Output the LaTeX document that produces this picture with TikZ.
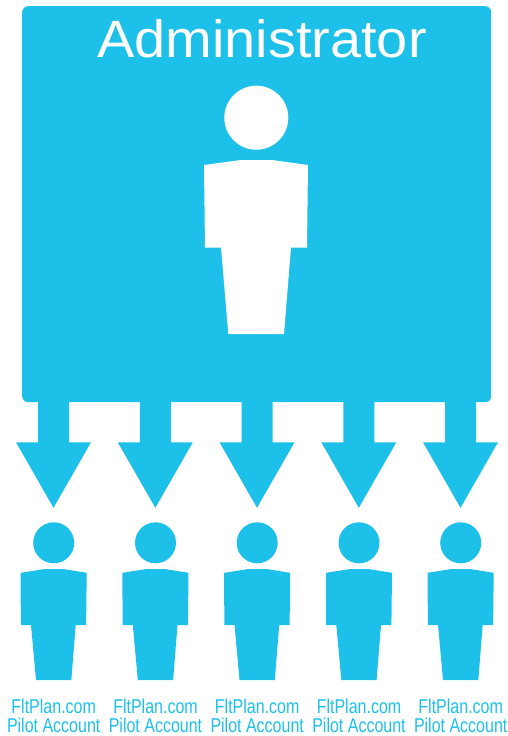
\documentclass[tikz,border=0pt]{standalone}
\usepackage{fontspec}
\setmainfont{Liberation Sans}
\definecolor{sky}{HTML}{1DC0E9}
\tikzset{
  x=1pt,y=-1pt,
  fillsky/.style={fill=sky,draw=none},
  fillwhite/.style={fill=white,draw=none},
  caption/.style={text=sky,inner sep=0pt,anchor=base,font=\fontsize{20}{20}\selectfont,xscale=0.8},
  title/.style={text=white,inner sep=0pt,anchor=base,font=\fontsize{52.5}{52.5}\selectfont,xscale=1.065},
  adminbox/.style={fillsky,rounded corners=6pt,minimum width=469pt,minimum height=396pt,inner sep=0pt,anchor=north west}
}
\begin{document}
\begin{tikzpicture}
\useasboundingbox (0,0) rectangle (508,736);
\node[adminbox] (admin) at (22,6) {};
\node[title] (admintitle) at (262,57.7) {Administrator};
% big figure
\fill[white] (256.3,117.7) circle (32);
\path[fillwhite] (204,165) -- (241,160) -- (272,160) -- (308,165) -- (307,247.5) -- (291,247.5) -- (284,334) -- (228.3,334) -- (221,247.5) -- (205,247.5) -- cycle;
\foreach \cx/\i in {53.5/1,155.3/2,257/3,358.8/4,460.5/5}{
  \begin{scope}[shift={(\cx,0)}]
    \path[fillsky] (-15.5,400) -- (15.5,400) -- (15.5,442.3) -- (37.5,442.3) -- (0,507.8) -- (-37.5,442.3) -- (-15.5,442.3) -- cycle;
    \fill[sky] (0.2,542.8) circle (20.5);
    \path[fillsky] (-33,572.8) -- (-8.5,569) -- (9.5,569) -- (33.2,572.8) -- (32.6,625) -- (22.2,625) -- (17.8,680) -- (-17.5,680) -- (-22.5,625) -- (-32.6,625) -- cycle;
    \node[caption] (planlabel\i) at (0.2,713.3) {FltPlan.com};
    \node[caption] (pilotlabel\i) at (0.2,732.7) {Pilot Account};
  \end{scope}
}
\end{tikzpicture}
\end{document}
